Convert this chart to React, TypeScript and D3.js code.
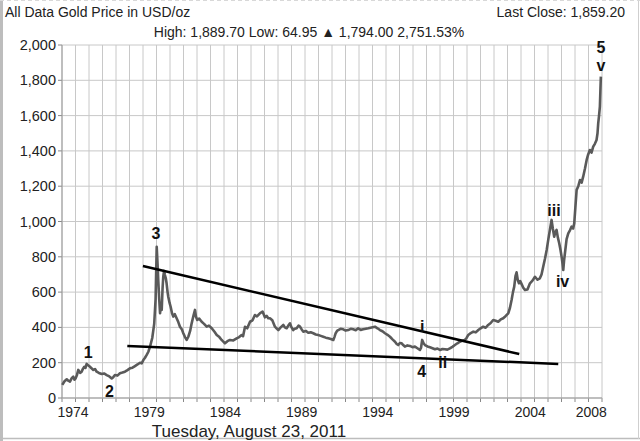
import React from "react";
import * as d3 from "d3";

const dates = [
  1973.02, 1973.18, 1973.34, 1973.45, 1973.57, 1973.70, 1973.81, 1973.90, 1973.98, 1974.08,
  1974.17, 1974.30, 1974.41, 1974.50, 1974.60, 1974.68, 1974.77, 1974.88, 1975.01, 1975.12,
  1975.25, 1975.37, 1975.49, 1975.65, 1975.85, 1976.02, 1976.21, 1976.40, 1976.57, 1976.68,
  1976.80, 1976.98, 1977.16, 1977.34, 1977.52, 1977.70, 1977.88, 1978.06, 1978.24, 1978.42,
  1978.60, 1978.72, 1978.84, 1978.96, 1979.08, 1979.20, 1979.32, 1979.48, 1979.62, 1979.72,
  1979.80, 1979.86, 1979.91, 1979.98, 1980.04, 1980.10, 1980.16, 1980.22, 1980.27, 1980.33,
  1980.39, 1980.45, 1980.51, 1980.58, 1980.63, 1980.72, 1980.80, 1980.90, 1980.99, 1981.10,
  1981.23, 1981.35, 1981.47, 1981.60, 1981.71, 1981.83, 1981.95, 1982.07, 1982.20, 1982.31,
  1982.45, 1982.55, 1982.62, 1982.71, 1982.85, 1983.03, 1983.20, 1983.39, 1983.55, 1983.75,
  1983.95, 1984.11, 1984.30, 1984.46, 1984.60, 1984.70, 1984.88, 1985.06, 1985.30, 1985.54,
  1985.72, 1985.90, 1986.00, 1986.14, 1986.30, 1986.50, 1986.68, 1986.85, 1987.00, 1987.21,
  1987.40, 1987.57, 1987.70, 1987.81, 1987.93, 1988.10, 1988.29, 1988.40, 1988.53, 1988.70,
  1988.89, 1989.00, 1989.13, 1989.25, 1989.37, 1989.48, 1989.60, 1989.72, 1989.85, 1989.98,
  1990.09, 1990.20, 1990.32, 1990.50, 1990.68, 1990.86, 1991.04, 1991.22, 1991.40, 1991.58,
  1991.76, 1991.94, 1992.12, 1992.30, 1992.48, 1992.56, 1992.65, 1992.75, 1992.84, 1993.00,
  1993.19, 1993.37, 1993.55, 1993.73, 1993.91, 1994.09, 1994.27, 1994.45, 1994.63, 1994.81,
  1994.99, 1995.23, 1995.47, 1995.65, 1995.83, 1996.01, 1996.19, 1996.37, 1996.55, 1996.73,
  1996.91, 1997.03, 1997.14, 1997.26, 1997.39, 1997.50, 1997.62, 1997.80, 1997.98, 1998.16,
  1998.34, 1998.52, 1998.70, 1998.78, 1998.86, 1998.96, 1999.06, 1999.24, 1999.42, 1999.60,
  1999.78, 1999.96, 2000.14, 2000.32, 2000.49, 2000.67, 2000.85, 2001.03, 2001.21, 2001.39,
  2001.57, 2001.75, 2001.93, 2002.05, 2002.17, 2002.35, 2002.53, 2002.71, 2002.89, 2003.06,
  2003.24, 2003.42, 2003.60, 2003.78, 2003.96, 2004.14, 2004.32, 2004.50, 2004.68, 2004.86,
  2005.04, 2005.16, 2005.28, 2005.38, 2005.47, 2005.56, 2005.64, 2005.72, 2005.81, 2005.90,
  2006.00, 2006.12, 2006.24, 2006.42, 2006.60, 2006.78, 2006.96, 2007.14, 2007.31, 2007.43,
  2007.55, 2007.68, 2007.80, 2007.92, 2008.03, 2008.15, 2008.24, 2008.34, 2008.42, 2008.51,
  2008.60, 2008.70, 2008.79, 2008.87, 2008.94, 2008.99, 2009.05, 2009.11, 2009.23, 2009.35,
  2009.47, 2009.59, 2009.70, 2009.78, 2009.86, 2009.95, 2010.07, 2010.19, 2010.31, 2010.42,
  2010.55, 2010.67, 2010.78, 2010.90, 2011.02, 2011.14, 2011.26, 2011.38, 2011.45, 2011.50,
  2011.56, 2011.62, 2011.66, 2011.69,
];

const prices = [
  74, 95, 106, 98, 93, 112, 121, 104, 111, 132,
  159, 142, 149, 165, 177, 170, 193, 185, 177, 168,
  159, 164, 149, 142, 136, 139, 130, 122, 111, 118,
  130, 127, 140, 144, 149, 158, 168, 172, 181, 190,
  200, 196, 215, 228, 244, 262, 291, 340, 420, 560,
  857, 760, 669, 560, 480, 540, 499, 620, 687, 720,
  697, 680, 650, 600, 574, 540, 517, 480, 461, 475,
  452, 430, 404, 390, 367, 345, 329, 347, 380, 423,
  470, 499, 460, 442, 450, 432, 420, 404, 410, 395,
  375, 357, 345, 329, 318, 310, 322, 329, 326, 338,
  345, 357, 350, 404, 395, 432, 440, 470, 462, 480,
  490, 457, 465, 452, 452, 440, 404, 395, 385, 400,
  414, 400, 395, 410, 423, 400, 385, 392, 395, 410,
  404, 390, 376, 380, 370, 372, 367, 360, 357, 352,
  347, 342, 338, 334, 329, 345, 367, 380, 385, 392,
  389, 382, 385, 392, 389, 384, 395, 386, 389, 392,
  395, 400, 404, 395, 385, 378, 367, 358, 347, 332,
  319, 306, 300, 312, 310, 300, 291, 298, 295, 288,
  291, 282, 272, 285, 329, 310, 300, 292, 287, 282,
  276, 280, 272, 278, 276, 274, 281, 290, 300, 310,
  319, 325, 329, 340, 357, 368, 376, 372, 385, 395,
  404, 398, 414, 425, 442, 438, 432, 445, 452, 465,
  480, 510, 555, 600, 631, 690, 712, 670, 650, 662,
  645, 625, 612, 615, 650, 665, 687, 670, 678, 700,
  744, 790, 839, 900, 952, 1009, 960, 914, 940, 952,
  910, 877, 840, 801, 760, 725, 780, 820, 900, 933,
  950, 971, 960, 990, 1080, 1179, 1200, 1235, 1220, 1254,
  1300, 1349, 1380, 1405, 1390, 1424, 1440, 1462, 1500, 1556,
  1600, 1651, 1750, 1821,
];

const yTicks = [0, 200, 400, 600, 800, 1000, 1200, 1400, 1600, 1800, 2000];
const xTickLabels = [1974, 1979, 1984, 1989, 1994, 1999, 2004, 2008];

// wave annotations (data coords)
const waveLabels = ["1", "2", "3", "i", "4", "ii", "iii", "iv", "5", "v"];
const waveDates = [1974.89, 1976.4, 1979.75, 1998.86, 1998.82, 2000.33, 2008.32, 2008.94, 2011.69, 2011.69];
const wavePrices = [262, 36, 935, 404, 149, 200, 1061, 659, 1990, 1887];

// trendlines (data coords)
const trendUpper = [[1978.81, 748], [2005.83, 249]];
const trendLower = [[1977.69, 295], [2008.63, 193]];

const W = 640;
const H = 441;
const left = 62;
const right = 602;
const top = 45;
const bottom = 398;
const font = "'Liberation Sans', Arial, sans-serif";

export default function App() {
  const x = d3.scaleLinear().domain([1973.0, 2011.7]).range([left, 601]);
  const y = d3.scaleLinear().domain([0, 2000]).range([bottom, top]);
  const grid = d3.scaleLinear().domain([0, 40]).range([left, right]);
  const xLabel = d3.scaleLinear().domain([1974, 2008]).range([x(1973.79), x(2011.0)]);

  const series = dates.map((d, i) => [d, prices[i]] as [number, number]);
  const line = d3
    .line<[number, number]>()
    .x((d) => x(d[0]))
    .y((d) => y(d[1]));

  const fmt = d3.format(",");

  return (
    <svg
      width={W}
      height={H}
      style={{ position: "fixed", left: 0, top: 0, display: "block", background: "#fff" }}
      fontFamily={font}
    >
      <rect x={0} y={0} width={W} height={H} fill="#fff" />
      {/* frame */}
      <rect x={0} y={0} width={3} height={H} fill="#bdbdbd" />
      <line x1={0} x2={W} y1={438.5} y2={438.5} stroke="#bdbdbd" strokeWidth={1.5} />
      <line x1={638.5} x2={638.5} y1={0} y2={439} stroke="#cfcfcf" strokeWidth={1} />
      <line x1={0} x2={W} y1={0.5} y2={0.5} stroke="#d8d8d8" strokeWidth={1} strokeDasharray="4,3" />

      {/* header */}
      <text x={5} y={17} fontSize={14} fill="#222">All Data Gold Price in USD/oz</text>
      <text x={625} y={17} fontSize={14} fill="#222" textAnchor="end">Last Close: 1,859.20</text>
      <text x={309} y={37} fontSize={14} fill="#222" textAnchor="middle">
        High: 1,889.70 Low: 64.95 <tspan fontSize={14}>▲</tspan> 1,794.00 2,751.53%
      </text>

      {/* grid */}
      {d3.range(41).map((i) => (
        <g key={"vg" + i}>
          <line x1={grid(i)} x2={grid(i)} y1={top} y2={bottom} stroke="#c8c8c8" strokeWidth={1} />
          <line x1={grid(i)} x2={grid(i)} y1={bottom} y2={bottom + 4} stroke="#888" strokeWidth={1} />
        </g>
      ))}
      {yTicks.map((t) => (
        <g key={"hg" + t}>
          <line x1={left} x2={right} y1={y(t)} y2={y(t)} stroke="#c8c8c8" strokeWidth={1} />
          <line x1={left - 4} x2={left} y1={y(t)} y2={y(t)} stroke="#888" strokeWidth={1} />
          <text x={left - 6} y={y(t)} dy="0.35em" fontSize={14.5} textAnchor="end" fill="#222">
            {fmt(t)}
          </text>
        </g>
      ))}
      <line x1={left} x2={left} y1={top} y2={bottom} stroke="#999" strokeWidth={1} />
      <line x1={left} x2={right} y1={bottom} y2={bottom} stroke="#999" strokeWidth={1} />

      {xTickLabels.map((t) => (
        <text key={"xl" + t} x={xLabel(t)} y={417} fontSize={14} textAnchor="middle" fill="#222">
          {t}
        </text>
      ))}

      <text x={249} y={437} fontSize={17} textAnchor="middle" fill="#222">
        Tuesday, August 23, 2011
      </text>

      {/* price line */}
      <path d={line(series) || ""} fill="none" stroke="#5a5a5a" strokeWidth={2.6} strokeLinejoin="round" />

      {/* trendlines */}
      {[trendUpper, trendLower].map((t, i) => (
        <line
          key={"tr" + i}
          x1={x(t[0][0])}
          y1={y(t[0][1])}
          x2={x(t[1][0])}
          y2={y(t[1][1])}
          stroke="#000"
          strokeWidth={2.5}
        />
      ))}

      {/* wave labels */}
      {waveLabels.map((l, i) => (
        <text
          key={"w" + i}
          x={x(waveDates[i])}
          y={y(wavePrices[i])}
          dy="0.36em"
          fontSize={16}
          fontWeight="bold"
          textAnchor="middle"
          fill="#111"
        >
          {l}
        </text>
      ))}
    </svg>
  );
}
